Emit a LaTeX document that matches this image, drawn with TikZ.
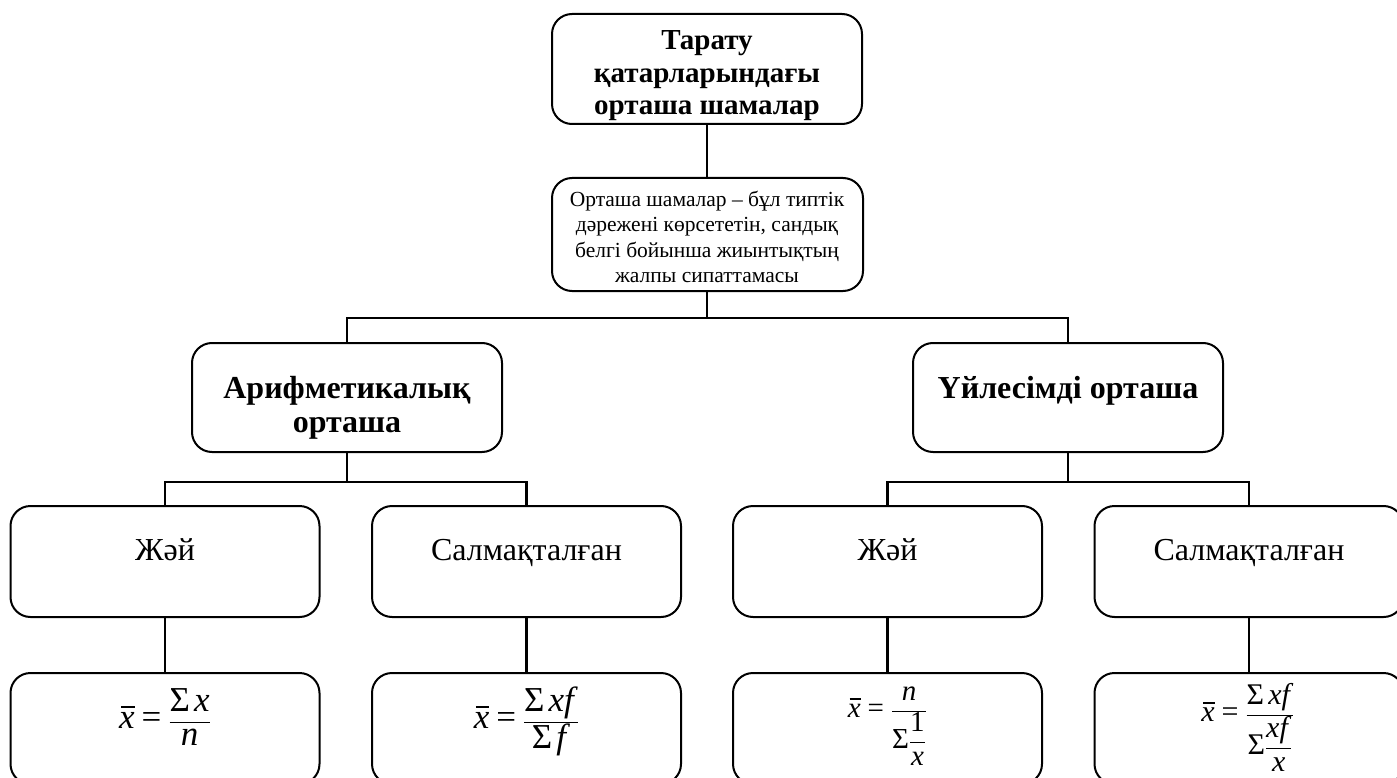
\documentclass[tikz,border=0pt]{standalone}
\usepackage{fontspec}
\setmainfont{Liberation Serif}
\newcommand{\ix}[1]{\mbox{\textit{#1}}}
\newcommand{\xbar}{\mbox{\rlap{\kern0.06em\rule[0.6em]{0.38em}{0.045em}}\textit{x}}}
\newcommand{\sig}{\mbox{Σ}}
\newcommand{\eqs}{\mathrel{\mbox{=}}}
\newcommand{\dfr}[2]{{\displaystyle\frac{#1}{#2}}}
\tikzset{
  x=1pt, y=-1pt,
  box/.style={draw, line width=2pt, rounded corners=20pt, minimum width=309pt, minimum height=111pt, inner sep=0pt},
  conn/.style={line width=2.2pt},
  ttl/.style={font=\fontsize{29}{32}\selectfont\bfseries, anchor=base, inner sep=0pt},
  dfn/.style={font=\fontsize{21.5}{25}\selectfont, anchor=base, inner sep=0pt},
  hdr/.style={font=\fontsize{32}{34}\selectfont\bfseries, anchor=base, inner sep=0pt},
  sub/.style={font=\fontsize{32}{34}\selectfont, anchor=base, inner sep=0pt},
  frm/.style={anchor=base, inner sep=0pt},
}
\begin{document}
\begin{tikzpicture}
\clip (0,0) rectangle (1397,778);
% boxes
\node[box, minimum width=310pt, minimum height=110pt] (top) at (707,69) {};
\node[box, minimum width=311pt, minimum height=113pt] (def) at (707.5,234.5) {};
\node[box, minimum width=310pt, minimum height=109pt] (arith) at (347,397.5) {};
\node[box, minimum width=310pt, minimum height=109pt] (harm) at (1068,397.5) {};
\node[box] (j1) at (165,561.5) {};
\node[box] (s1) at (526.5,561.5) {};
\node[box] (j2) at (887.5,561.5) {};
\node[box] (s2) at (1249,561.5) {};
\node[box] (f1) at (165,728.5) {};
\node[box] (f2) at (526.5,728.5) {};
\node[box] (f3) at (887.5,728.5) {};
\node[box] (f4) at (1249,728.5) {};
% texts
\node[ttl] (ta) at (707,50) {Тарату};
\node[ttl] (tb) at (707,83) {қатарларындағы};
\node[ttl] (tc) at (707,115) {орташа шамалар};
\node[dfn] (da) at (707,207) {Орташа шамалар – бұл типтік};
\node[dfn] (db) at (707,232) {дәрежені көрсететін, сандық};
\node[dfn] (dc) at (707,257) {белгі бойынша жиынтықтың};
\node[dfn] (dd) at (707,282) {жалпы сипаттамасы};
\node[hdr] (aa) at (347,398) {Арифметикалық};
\node[hdr] (ab) at (347,432) {орташа};
\node[hdr] (ha) at (1068,398) {Үйлесімді орташа};
\node[sub] (j1t) at (165,560) {Жәй};
\node[sub] (s1t) at (526.5,560) {Салмақталған};
\node[sub] (j2t) at (887.5,560) {Жәй};
\node[sub] (s2t) at (1249,560) {Салмақталған};
% formulas
\node[frm, font=\fontsize{35}{38}\selectfont] (m1) at (165,728.5)
  {$\displaystyle \xbar \eqs \frac{\sig\,\ix{x}}{\ix{n}}$};
\node[frm, font=\fontsize{35}{38}\selectfont] (m2) at (526.5,728.5)
  {$\displaystyle \xbar \eqs \frac{\sig\,\ix{xf}}{\sig\,\ix{f}}$};
\node[frm, font=\fontsize{29}{32}\selectfont] (m3) at (887.5,717)
  {$\displaystyle \xbar \eqs \frac{\ix{n}}{\sig\dfr{\mbox{1}}{\ix{x}}}$};
\node[frm, font=\fontsize{30}{33}\selectfont] (m4) at (1248,721.5)
  {$\displaystyle \xbar \eqs \frac{\sig\,\ix{xf}}{\sig\dfr{\ix{xf}}{\ix{x}}}$};
% connectors
\coordinate (b1) at (707,318);
\coordinate (b2) at (347,482);
\coordinate (b3) at (1068,482);
\draw[conn] (top.south) -- (def.north -| top.south);
\draw[conn] (def.south -| b1) -- (b1);
\draw[conn] (arith.north) |- (b1) -| (harm.north);
\draw[conn] (arith.south) -- (b2);
\draw[conn] (j1.north) |- (b2) -| (s1.north);
\draw[conn] (harm.south) -- (b3);
\draw[conn] (j2.north) |- (b3) -| (s2.north);
\draw[conn] (j1.south) -- (f1.north);
\draw[conn] (s1.south) -- (f2.north);
\draw[conn] (j2.south) -- (f3.north);
\draw[conn] (s2.south) -- (f4.north);
\end{tikzpicture}
\end{document}
